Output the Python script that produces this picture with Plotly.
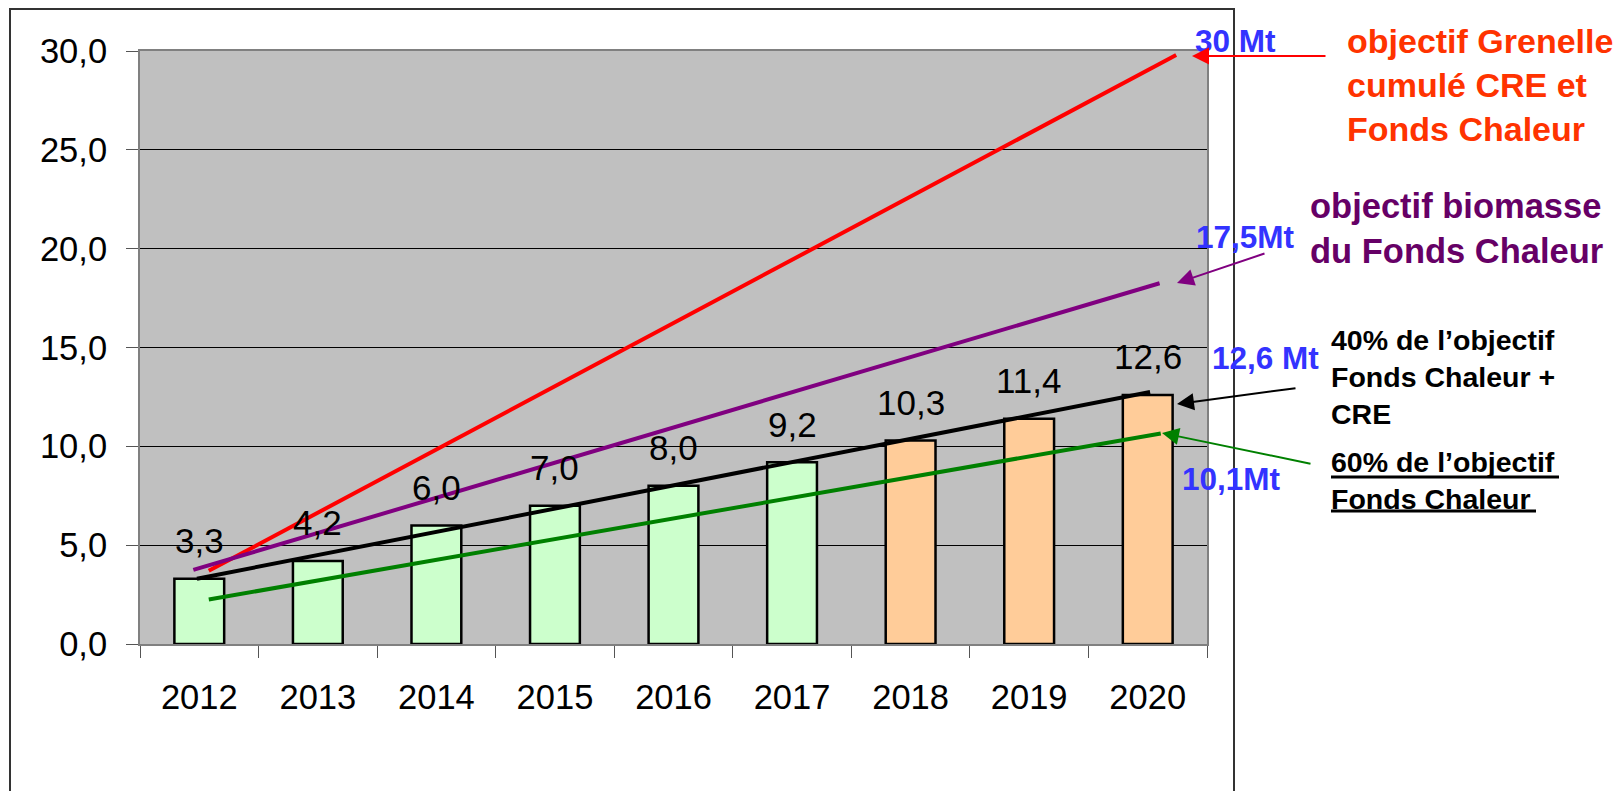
import plotly.graph_objects as go

# ---- data ----
years = ["2012", "2013", "2014", "2015", "2016", "2017", "2018", "2019", "2020"]
values = [3.3, 4.2, 6.0, 7.0, 8.0, 9.2, 10.3, 11.4, 12.6]
bar_colors = ["#CCFFCC"] * 6 + ["#FFCC99"] * 3

# hand-drawn objective lines (x in category units, y in Mt)
red_x = [0.08, 8.24]
red_y = [3.7, 29.8]
purple_x = [-0.05, 8.10]
purple_y = [3.75, 18.25]
black_x = [-0.02, 8.02]
black_y = [3.3, 12.75]
green_x = [0.08, 8.11]
green_y = [2.25, 10.65]

OFF = 8  # page body margin
W, H = 1624 - OFF, 791 - OFF
L, R, T, B = 140 - OFF, 1207 - OFF, 51 - OFF, 644 - OFF
FONT = "Arial, 'Liberation Sans', sans-serif"


def px(x):
    return (x - OFF - L) / (R - L)


def py(y):
    return (B - (y - OFF)) / (B - T)


xi = list(range(len(years)))

fig = go.Figure()
fig.add_trace(go.Bar(x=xi, y=values, width=0.42,
                     marker=dict(color=bar_colors, line=dict(color="black", width=2.5)),
                     hoverinfo="skip"))
for lx, ly, c in [(red_x, red_y, "#FF0000"), (purple_x, purple_y, "#800080"),
                  (black_x, black_y, "#000000"), (green_x, green_y, "#008000")]:
    fig.add_trace(go.Scatter(x=lx, y=ly, mode="lines", line=dict(color=c, width=4),
                             hoverinfo="skip"))

ann = []
for i, v in zip(xi, values):
    ann.append(dict(x=i, y=v, xref="x", yref="y", text=f"{v:.1f}".replace(".", ","),
                    showarrow=False, yanchor="middle", yshift=38,
                    font=dict(size=35, color="black", family=FONT)))


def label(x, y, text, color, size):
    ann.append(dict(x=px(x), y=py(y), xref="paper", yref="paper", text=text,
                    showarrow=False, xanchor="left", yanchor="middle", align="left",
                    font=dict(size=size, color=color, family=FONT)))


label(1193, 41, "<b>30 Mt</b>", "#3333FF", 31.5)
label(1345, 84.5, "<b>objectif Grenelle<br>cumulé CRE et<br>Fonds Chaleur</b>", "#FF3300", 34)
label(1194, 237, "<b>17,5Mt</b>", "#3333FF", 31.5)
label(1308, 228, "<b>objectif biomasse<br>du Fonds Chaleur</b>", "#660066", 34.5)
label(1210, 358, "<b>12,6 Mt</b>", "#3333FF", 31.5)
label(1329, 377, "<b>40% de l’objectif<br>Fonds Chaleur +<br>CRE</b>", "#000000", 28.5)
label(1329, 480.5, "<b>60% de l’objectif<br>Fonds Chaleur</b>", "#000000", 28.5)
label(1180, 479, "<b>10,1Mt</b>", "#3333FF", 31.5)


def arrow(hx, hy, tx, ty, color):
    ann.append(dict(x=px(hx), y=py(hy), xref="paper", yref="paper", text="",
                    showarrow=True, ax=tx - hx, ay=ty - hy, arrowhead=2,
                    arrowsize=1.7, arrowwidth=2, arrowcolor=color))


arrow(1192, 56, 1327, 56, "#FF0000")
arrow(1177, 283, 1266, 253, "#800080")
arrow(1177, 404, 1297, 388, "#000000")
arrow(1162, 433, 1312, 464, "#008000")


def hline(x0, x1, y, w):
    return dict(type="line", xref="paper", yref="paper", x0=px(x0), x1=px(x1),
                y0=py(y), y1=py(y), line=dict(color="black", width=w))


shapes = [dict(type="rect", xref="paper", yref="paper",
               x0=px(10), x1=px(1234), y0=py(830), y1=py(9),
               line=dict(color="#333333", width=2), fillcolor="rgba(0,0,0,0)",
               layer="below"),
          hline(1331, 1559, 477, 3),
          hline(1331, 1536, 511, 3)]

fig.update_layout(
    width=W, height=H,
    margin=dict(l=L, r=W - R, t=T, b=H - B, pad=0),
    paper_bgcolor="white", plot_bgcolor="#C0C0C0",
    separators=",.",
    showlegend=False,
    font=dict(family=FONT, color="black"),
    annotations=ann,
    shapes=shapes,
    bargap=0.58,
)
fig.update_xaxes(range=[-0.5, 8.5], tickvals=xi, ticktext=years, ticks="",
                 showgrid=False, zeroline=False, showline=True, mirror=True,
                 linecolor="#808080", linewidth=2,
                 tickfont=dict(size=34.5, family=FONT, color="black"),
                 ticklabelstandoff=22,
                 minor=dict(ticks="outside", tick0=-0.5, dtick=1, ticklen=12,
                            tickcolor="#555555", tickwidth=1, showgrid=False))
fig.update_yaxes(range=[0, 30], dtick=5, tickformat=".1f", ticks="outside", ticklen=12,
                 tickcolor="#555555", showgrid=True, gridcolor="black", gridwidth=1,
                 zeroline=False, showline=True, mirror=True, linecolor="#808080",
                 linewidth=2, tickfont=dict(size=34.5, family=FONT, color="black"),
                 ticklabelstandoff=12)

fig.write_html("out.html")
